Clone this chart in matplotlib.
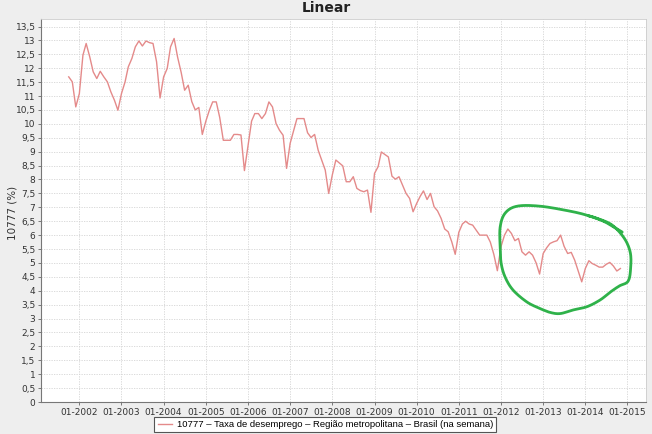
import numpy as np
import pandas as pd
import matplotlib
matplotlib.use("Agg")
import matplotlib.pyplot as plt
import matplotlib.dates as mdates
from matplotlib.ticker import FixedLocator, FuncFormatter

# monthly unemployment rate (%), starting Oct 2001
rate = [
    11.69, 11.51, 10.61, 11.09, 12.47, 12.89, 12.41, 11.87, 11.63, 11.89,
    11.69, 11.51, 11.15, 10.85, 10.49, 11.09, 11.51, 12.05, 12.35, 12.77,
    12.98, 12.80, 12.98, 12.92, 12.89, 12.23, 10.93, 11.69, 11.99, 12.77,
    13.07, 12.40, 11.85, 11.21, 11.39, 10.80, 10.50, 10.59, 9.62, 10.10,
    10.50, 10.79, 10.79, 10.23, 9.41, 9.41, 9.41, 9.62, 9.62, 9.60,
    8.32, 9.20, 10.10, 10.37, 10.37, 10.19, 10.37, 10.79, 10.61, 10.01,
    9.77, 9.59, 8.40, 9.30, 9.77, 10.19, 10.19, 10.19, 9.68, 9.51,
    9.62, 9.05, 8.70, 8.34, 7.50, 8.16, 8.70, 8.60, 8.49, 7.92,
    7.92, 8.10, 7.68, 7.60, 7.56, 7.62, 6.82, 8.22, 8.46, 8.99,
    8.90, 8.81, 8.12, 8.01, 8.10, 7.80, 7.50, 7.32, 6.84, 7.14,
    7.40, 7.59, 7.28, 7.50, 7.02, 6.87, 6.60, 6.22, 6.12, 5.76,
    5.31, 6.10, 6.40, 6.50, 6.40, 6.36, 6.18, 6.00, 6.00, 6.00,
    5.75, 5.30, 4.72, 5.58, 6.00, 6.22, 6.06, 5.80, 5.88, 5.40,
    5.28, 5.40, 5.28, 5.00, 4.60, 5.34, 5.55, 5.70, 5.76, 5.80,
    6.00, 5.60, 5.34, 5.38, 5.10, 4.70, 4.32, 4.80, 5.08, 4.98,
    4.92, 4.85, 4.85, 4.95, 5.02, 4.89, 4.71, 4.80,
]
dates = pd.date_range("2001-10-01", periods=len(rate), freq="MS")

tick_years = list(range(2002, 2016))
y_ticks = [i * 0.5 for i in range(28)]

# hand-drawn green loop (fractional year, value)
loop_year = [2014.875, 2014.472, 2014.069, 2013.642, 2012.930, 2012.384,
             2012.100, 2011.981, 2011.981, 2012.005, 2012.100, 2012.290,
             2012.622, 2012.930, 2013.167, 2013.404, 2013.713, 2014.045,
             2014.353, 2014.591, 2014.804, 2015.018, 2015.077, 2015.065,
             2014.923, 2014.638, 2014.306, 2014.069]
loop_val = [6.11, 6.47, 6.70, 6.86, 7.04, 7.04, 6.79, 6.29, 5.57, 4.99,
            4.49, 4.02, 3.59, 3.36, 3.22, 3.18, 3.31, 3.43, 3.67, 3.95,
            4.17, 4.35, 4.85, 5.39, 5.89, 6.36, 6.59, 6.70]


def year_to_num(y):
    base = mdates.date2num(pd.Timestamp(int(y), 1, 1))
    return base + (y - int(y)) * 365.25


def smooth(xs, ys, n=12):
    # catmull-rom through the stroke points so the pen line looks round
    p = np.column_stack([xs, ys])
    p = np.vstack([p[0], p, p[-1]])
    out = []
    for i in range(1, len(p) - 2):
        p0, p1, p2, p3 = p[i - 1], p[i], p[i + 1], p[i + 2]
        for t in np.linspace(0, 1, n, endpoint=False):
            out.append(0.5 * ((2 * p1) + (-p0 + p2) * t
                              + (2 * p0 - 5 * p1 + 4 * p2 - p3) * t ** 2
                              + (-p0 + 3 * p1 - 3 * p2 + p3) * t ** 3))
    out.append(p[-2])
    out = np.array(out)
    return out[:, 0], out[:, 1]


fig = plt.figure(figsize=(6.52, 4.34), dpi=100, facecolor="#eeeeee")
ax = fig.add_axes([0.0629, 0.0737, 0.9279, 0.8825])
ax.set_facecolor("white")

ax.plot(dates, rate, color="#e48a8a", lw=1.0,
        label="10777 – Taxa de desemprego – Região metropolitana – Brasil (na semana)")

# smooth in year/value space scaled to pixels-ish aspect
sx, sy = smooth(np.array(loop_year) * 42.15, np.array(loop_val) * 27.83)
ax.plot([year_to_num(v / 42.15) for v in sx], sy / 27.83, color="#2fb24a",
        lw=2.0, solid_capstyle="round", solid_joinstyle="round")

ax.set_xlim(year_to_num(2001.09), year_to_num(2015.44))
ax.set_ylim(0, 13.77)

ax.xaxis.set_major_locator(FixedLocator([year_to_num(y) for y in tick_years]))
ax.xaxis.set_major_formatter(mdates.DateFormatter("%m-%Y"))
ax.yaxis.set_major_locator(FixedLocator(y_ticks))
ax.yaxis.set_major_formatter(FuncFormatter(
    lambda v, p: ("%g" % v).replace(".", ",")))

ax.tick_params(axis="both", labelsize=6.5, length=2, width=0.6,
               color="#666666", labelcolor="#333333", pad=2)
ax.grid(True, color="#d4d4d4", lw=0.6, ls=(0, (1.5, 1.5)))
for side in ["left", "bottom"]:
    ax.spines[side].set_color("#777777")
    ax.spines[side].set_linewidth(0.8)
for side in ["top", "right"]:
    ax.spines[side].set_color("#cccccc")
    ax.spines[side].set_linewidth(0.6)

fig.text(0.5, 0.981, "Linear", ha="center", va="center",
         fontsize=10, fontweight="bold", color="#222222")
fig.text(0.019, 0.51, "10777 (%)", ha="center", va="center",
         rotation=90, fontsize=7.5, color="#333333")

leg = fig.legend(loc="center", bbox_to_anchor=(0.499, 0.022),
                 prop={"family": "Liberation Sans", "size": 6.8},
                 frameon=True, fancybox=False, edgecolor="#555555",
                 facecolor="white", framealpha=1, borderpad=0.35,
                 handlelength=1.5, handletextpad=0.5)
leg.get_frame().set_linewidth(0.8)

fig.savefig("out.png", dpi=100, facecolor=fig.get_facecolor())
